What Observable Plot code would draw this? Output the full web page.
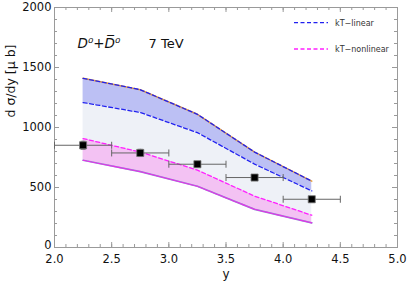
<!DOCTYPE html>
<html>
<head>
<meta charset="utf-8">
<script src="https://cdn.jsdelivr.net/npm/d3@7"></script>
<script src="https://cdn.jsdelivr.net/npm/@observablehq/plot@0.6"></script>
<style>
  html, body { margin: 0; padding: 0; background: white; }
</style>
</head>
<body>
<div id="chart"></div>
<script>
// Rapidity bins (centres) for the model curves
const yCenters = [2.25, 2.75, 3.25, 3.75, 4.25];
// kT-linear band (upper / lower edge), μb
const linUpper = [1410, 1315, 1110, 795, 553];
const linLower = [1208, 1125, 957, 695, 472];
// kT-nonlinear band (upper / lower edge), μb
const nlUpper = [908, 795, 645, 428, 269];
const nlLower = [727, 632, 510, 318, 205];
// Data points
const dataX = [2.25, 2.75, 3.25, 3.75, 4.25];
const dataY = [852, 788, 694, 583, 402];
const dataXerr = [0.25, 0.25, 0.25, 0.25, 0.25];
const dataYerr = [33, 30, 20, 18, 20];
// Axis ticks
const xMajor = [2.0, 2.5, 3.0, 3.5, 4.0, 4.5, 5.0];
const xMinor = d3.range(20, 51).map(d => d / 10);
const yMajor = [0, 500, 1000, 1500, 2000];
const yMinor = d3.range(0, 2001, 100);

const curves = yCenters.map((x, i) => ({
  x, linU: linUpper[i], linL: linLower[i], nlU: nlUpper[i], nlL: nlLower[i]
}));
const points = dataX.map((x, i) => ({
  x, y: dataY[i], xe: dataXerr[i], ye: dataYerr[i]
}));

const vbar = {draw(ctx, size) { const h = Math.sqrt(size / Math.PI); ctx.moveTo(0, -h); ctx.lineTo(0, h); }};
const hbar = {draw(ctx, size) { const h = Math.sqrt(size / Math.PI); ctx.moveTo(-h, 0); ctx.lineTo(h, 0); }};

const W = 407, H = 288, mL = 54, mR = 10, mT = 7, mB = 41;
const fw = W - mL - mR, fh = H - mT - mB;
const axisColor = "#9a9a9a";

const svg = Plot.plot({
  width: W, height: H,
  marginLeft: mL, marginRight: mR, marginTop: mT, marginBottom: mB,
  style: {fontFamily: "DejaVu Sans", fontSize: "11px", background: "white", color: "#111"},
  x: {domain: [2, 5]},
  y: {domain: [0, 2000]},
  marks: [
    // bands
    Plot.areaY(curves, {x: "x", y1: "linL", y2: "linU", fill: "#bcc0f4"}),
    Plot.areaY(curves, {x: "x", y1: "nlU", y2: "linL", fill: "#eef1f7"}),
    Plot.areaY(curves, {x: "x", y1: "nlL", y2: "nlU", fill: "#f3c2f3"}),
    // curves
    Plot.line(curves, {x: "x", y: "linU", stroke: "#e8a040", strokeWidth: 1.6}),
    Plot.line(curves, {x: "x", y: "linU", stroke: "#2020f0", strokeWidth: 1.3, strokeDasharray: "4,2.5"}),
    Plot.line(curves, {x: "x", y: "linL", stroke: "#2020f0", strokeWidth: 1.3, strokeDasharray: "4,2.5"}),
    Plot.line(curves, {x: "x", y: "nlU", stroke: "#ff20ff", strokeWidth: 1.3, strokeDasharray: "4,2.5"}),
    Plot.line(curves, {x: "x", y: "nlL", stroke: "#8a90d0", strokeWidth: 1.7}),
    Plot.line(curves, {x: "x", y: "nlL", stroke: "#e830e8", strokeWidth: 1.1, strokeDasharray: "4,1"}),
    // frame and ticks
    Plot.frame({stroke: axisColor}),
    Plot.tickX(xMinor, {x: d => d, insetTop: fh - 3, stroke: axisColor}),
    Plot.tickX(xMajor, {x: d => d, insetTop: fh - 5, stroke: axisColor}),
    Plot.tickX(xMinor, {x: d => d, insetBottom: fh - 3, stroke: axisColor}),
    Plot.tickX(xMajor, {x: d => d, insetBottom: fh - 5, stroke: axisColor}),
    Plot.tickY(yMinor, {y: d => d, insetRight: fw - 3, stroke: axisColor}),
    Plot.tickY(yMajor, {y: d => d, insetRight: fw - 5, stroke: axisColor}),
    Plot.tickY(yMinor, {y: d => d, insetLeft: fw - 3, stroke: axisColor}),
    Plot.tickY(yMajor, {y: d => d, insetLeft: fw - 5, stroke: axisColor}),
    Plot.axisX({ticks: xMajor, tickSize: 0, tickPadding: 7, tickFormat: d3.format(".1f"), label: null, fontSize: 11.5}),
    Plot.axisY({ticks: yMajor.slice(1), tickSize: 0, tickPadding: 3, tickFormat: d3.format("d"), label: null, fontSize: 11.5, dy: 0}),
    Plot.axisY({ticks: yMajor.slice(0, 1), tickSize: 0, tickPadding: 3, tickFormat: d3.format("d"), label: null, fontSize: 11.5, dy: -2.5}),
    // error bars
    Plot.link(points, {x1: d => d.x - d.xe, x2: d => d.x + d.xe, y1: "y", y2: "y", stroke: "#666", strokeWidth: 1}),
    Plot.dot(points, {x: d => d.x - d.xe, y: "y", symbol: vbar, r: 3.5, stroke: "#666", strokeWidth: 1}),
    Plot.dot(points, {x: d => d.x + d.xe, y: "y", symbol: vbar, r: 3.5, stroke: "#666", strokeWidth: 1}),
    Plot.ruleX(points, {x: "x", y1: d => d.y - d.ye, y2: d => d.y + d.ye, stroke: "#666", strokeWidth: 1}),
    Plot.dot(points, {x: "x", y: d => d.y - d.ye, symbol: hbar, r: 2.5, stroke: "#666", strokeWidth: 1}),
    Plot.dot(points, {x: "x", y: d => d.y + d.ye, symbol: hbar, r: 2.5, stroke: "#666", strokeWidth: 1}),
    Plot.dot(points, {x: "x", y: "y", symbol: "square", r: 4, fill: "black", stroke: "#777", strokeWidth: 0.8}),
    // labels
    Plot.text(["y"], {frameAnchor: "bottom", dy: 30, fontSize: 12, fill: "#111"}),
    Plot.text(["d σ/dy [μ b]"], {frameAnchor: "left", rotate: -90, dx: -44, dy: -10, fontSize: 12.5, fill: "#111"}),
    Plot.text(["D\u2070+D\u0305\u2070"], {frameAnchor: "top-left", dx: 23, dy: 31, textAnchor: "start", fontSize: 13.5, fontStyle: "italic", fill: "#111"}),
    Plot.text(["7 TeV"], {frameAnchor: "top-left", dx: 94, dy: 31, textAnchor: "start", fontSize: 13, fill: "#111"})
  ]
});

// legend
const g = d3.select(svg).append("g");
const legend = [
  {label: "kT−linear", color: "#2020f0", y: 22.7},
  {label: "kT−nonlinear", color: "#ff20ff", y: 49}
];
legend.forEach(d => {
  g.append("line").attr("x1", 294).attr("x2", 328).attr("y1", d.y).attr("y2", d.y)
    .attr("stroke", d.color).attr("stroke-width", 1.3).attr("stroke-dasharray", "4,2.5");
  g.append("text").attr("x", 335).attr("y", d.y).attr("dy", "0.35em")
    .attr("text-anchor", "start")
    .attr("font-family", "DejaVu Sans").attr("font-size", 8).attr("fill", "#333").text(d.label);
});

document.getElementById("chart").appendChild(svg);
</script>
</body>
</html>
